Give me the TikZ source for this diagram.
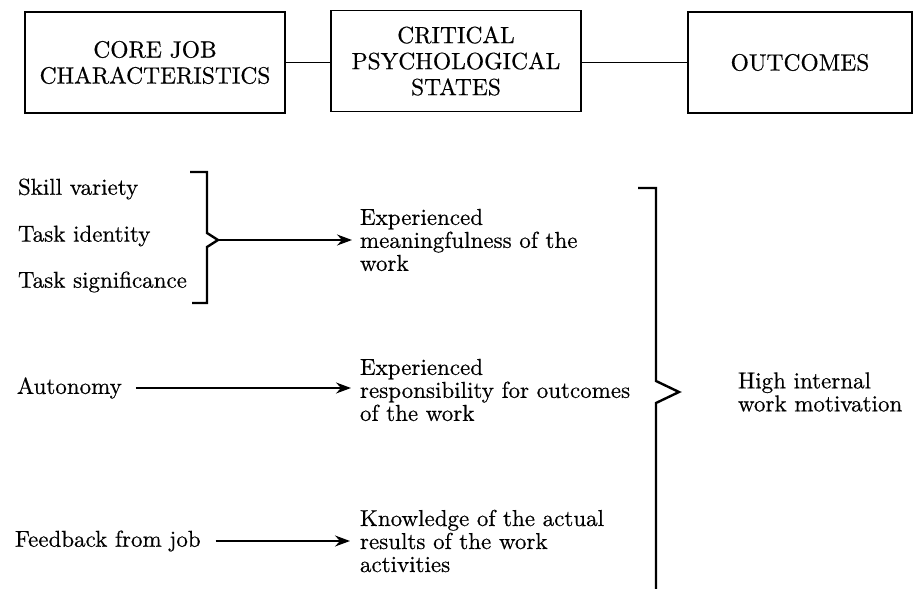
\documentclass[tikz,border=0pt]{standalone}
\usepackage{fontspec}
% 10pt-design Latin Modern, slightly emboldened, scaled up for display text
\setmainfont{lmroman10-regular.otf}[FakeBold=0.5]
\usetikzlibrary{arrows.meta}
\begin{document}
\begin{tikzpicture}[x=1pt,y=-1pt,
  every node/.style={inner sep=0pt, outer sep=0pt},
  headbox/.style={draw, line width=1.8pt, rectangle, minimum height=101pt,
    align=center, font=\fontsize{23.5}{26}\selectfont},
  label/.style={anchor=west, font=\fontsize{23}{23}\selectfont},
  statetext/.style={anchor=west, align=left, font=\fontsize{23}{23}\selectfont},
  joinline/.style={line width=1.8pt},
  brace/.style={line width=2.4pt, line join=miter},
  flow/.style={line width=1.8pt, -{Stealth[length=15pt, width=11pt, inset=5pt]}}]

% fixed page frame
\useasboundingbox (0,0) rectangle (922,589);

% header boxes
\node[headbox, minimum width=260pt] (core) at (155,62.5) {CORE JOB\\CHARACTERISTICS};
\node[headbox, minimum width=250pt] (crit) at (456,61) {CRITICAL\\PSYCHOLOGICAL\\STATES};
\node[headbox, minimum width=224pt] (outc) at (800,62.5) {OUTCOMES};
\draw[joinline] (core.east) -- (core.east -| crit.west);
\draw[joinline] (outc.west -| crit.east) -- (outc.west);

% core job characteristics
\node[label] (skill) at (18,189) {Skill variety};
\node[label] (ident) at (18,236) {Task identity};
\node[label] (signif) at (18,282) {Task significance};
\node[label] (auton) at (17,388) {Autonomy};
\node[label] (feed) at (15,541) {Feedback from job};

% critical psychological states
\node[statetext] (meaning) at (360,240) {Experienced\\meaningfulness of the\\work};
\node[statetext] (respons) at (360,390) {Experienced\\responsibility for outcomes\\of the work};
\node[statetext] (knowl) at (360,541) {Knowledge of the actual\\results of the work\\activities};

% outcome
\node[statetext] (motiv) at (738,392) {High internal\\work motivation};

% brace grouping the first three characteristics
\coordinate (tipA) at (218,240);
\draw[brace] (190,172) -- (207,172) -- (207,233) -- (tipA) -- (207,247) -- (207,303) -- (192,303);

% brace grouping the three states
\coordinate (tipB) at (679,392);
\draw[brace] (638,188) -- (656,188) -- (656,381) -- (tipB) -- (656,403) -- (656,589);

% arrows into the states
\draw[flow, shorten >=8pt] (tipA) -- (tipA -| meaning.west);
\draw[flow, shorten <=14pt, shorten >=9pt] (auton.east) -- (auton.east -| respons.west);
\draw[flow, shorten <=15pt, shorten >=10pt] (feed.east) -- (feed.east -| knowl.west);
\end{tikzpicture}
\end{document}
